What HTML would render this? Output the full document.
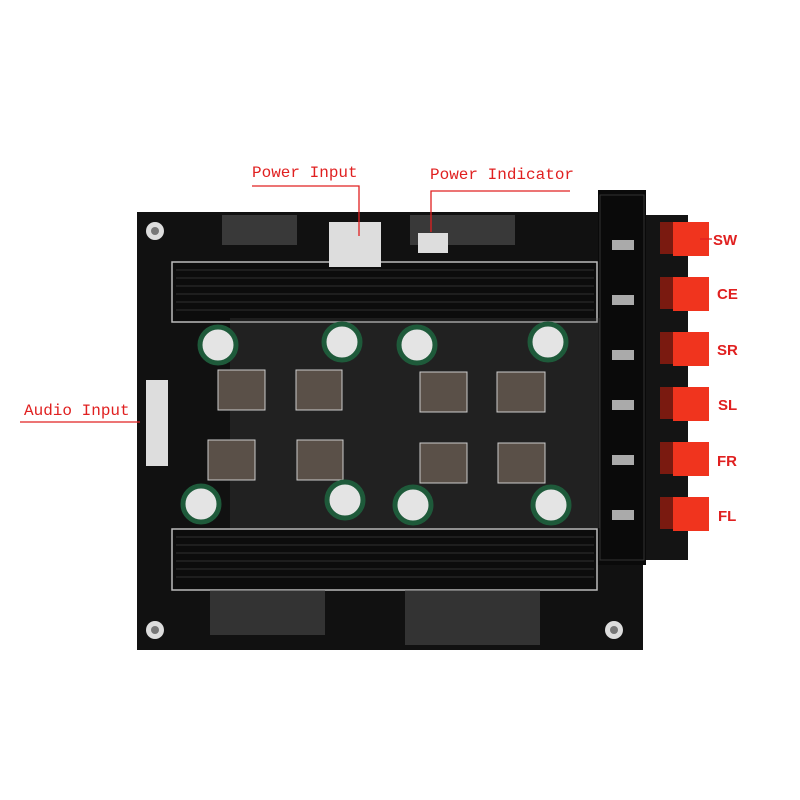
<!DOCTYPE html>
<html><head><style>body{margin:0;background:#fff}svg{display:block}</style></head><body>
<svg width="800" height="800" viewBox="0 0 800 800" xmlns="http://www.w3.org/2000/svg">
<rect width="800" height="800" fill="#fff"/>
<rect x="640" y="215" width="48" height="345" fill="#141414"/>
<rect x="137" y="212" width="506" height="438" fill="#111"/>
<rect x="598" y="190" width="48" height="375" fill="#0a0a0a"/>
<rect x="600" y="195" width="44" height="365" fill="none" stroke="#333" stroke-width="1"/>
<g fill="#ddd"><circle cx="155" cy="231" r="9"/><circle cx="155" cy="630" r="9"/><circle cx="614" cy="630" r="9"/></g>
<g fill="#777"><circle cx="155" cy="231" r="4"/><circle cx="155" cy="630" r="4"/><circle cx="614" cy="630" r="4"/></g>
<g stroke="#bbb" stroke-width="1.5" fill="#0c0c0c">
<rect x="172" y="262" width="425" height="60"/>
<rect x="172" y="529" width="425" height="61"/>
</g>
<g stroke="#2a2a2a" stroke-width="1.2">
<line x1="176" y1="270" x2="594" y2="270"/><line x1="176" y1="278" x2="594" y2="278"/><line x1="176" y1="286" x2="594" y2="286"/><line x1="176" y1="294" x2="594" y2="294"/><line x1="176" y1="302" x2="594" y2="302"/><line x1="176" y1="310" x2="594" y2="310"/>
<line x1="176" y1="537" x2="594" y2="537"/><line x1="176" y1="545" x2="594" y2="545"/><line x1="176" y1="553" x2="594" y2="553"/><line x1="176" y1="561" x2="594" y2="561"/><line x1="176" y1="569" x2="594" y2="569"/><line x1="176" y1="577" x2="594" y2="577"/>
</g>
<g fill="#555">
<rect x="222" y="215" width="75" height="30" opacity=".6"/>
<rect x="410" y="215" width="105" height="30" opacity=".6"/>
<rect x="210" y="590" width="115" height="45" opacity=".5"/>
<rect x="405" y="590" width="135" height="55" opacity=".5"/>
<rect x="230" y="318" width="370" height="210" opacity=".25"/>
</g>
<rect x="329" y="222" width="52" height="45" fill="#ddd"/>
<rect x="418" y="233" width="30" height="20" fill="#ddd"/>
<rect x="146" y="380" width="22" height="86" fill="#ddd"/>
<g fill="#5a5048" stroke="#ccc" stroke-width="1">
<rect x="218" y="370" width="47" height="40"/><rect x="296" y="370" width="46" height="40"/>
<rect x="420" y="372" width="47" height="40"/><rect x="497" y="372" width="48" height="40"/>
<rect x="208" y="440" width="47" height="40"/><rect x="297" y="440" width="46" height="40"/>
<rect x="420" y="443" width="47" height="40"/><rect x="498" y="443" width="47" height="40"/>
</g>
<g fill="#e4e4e4" stroke="#1e5a3a" stroke-width="5">
<circle cx="218" cy="345" r="18"/><circle cx="342" cy="342" r="18"/><circle cx="417" cy="345" r="18"/><circle cx="548" cy="342" r="18"/>
<circle cx="201" cy="504" r="18"/><circle cx="345" cy="500" r="18"/><circle cx="413" cy="505" r="18"/><circle cx="551" cy="505" r="18"/>
</g>
<g fill="#aaa"><rect x="612" y="240" width="22" height="10"/><rect x="612" y="295" width="22" height="10"/><rect x="612" y="350" width="22" height="10"/><rect x="612" y="400" width="22" height="10"/><rect x="612" y="455" width="22" height="10"/><rect x="612" y="510" width="22" height="10"/></g>
<g fill="#7a1a10"><rect x="660" y="222" width="18" height="32"/><rect x="660" y="277" width="18" height="32"/><rect x="660" y="332" width="18" height="32"/><rect x="660" y="387" width="18" height="32"/><rect x="660" y="442" width="18" height="32"/><rect x="660" y="497" width="18" height="32"/></g>
<g fill="#f0341e"><rect x="673" y="222" width="36" height="34"/><rect x="673" y="277" width="36" height="34"/><rect x="673" y="332" width="36" height="34"/><rect x="673" y="387" width="36" height="34"/><rect x="673" y="442" width="36" height="34"/><rect x="673" y="497" width="36" height="34"/></g>
<g stroke="#e02020" stroke-width="1.3" fill="none">
<polyline points="252,186 359,186 359,236"/>
<polyline points="570,191 431,191 431,232"/>
<line x1="20" y1="422" x2="140" y2="422"/>
<line x1="700" y1="239" x2="712" y2="239"/>
</g>
<g font-family="Liberation Mono, monospace" font-size="16" fill="#e02020">
<text x="252" y="177">Power Input</text>
<text x="430" y="179">Power Indicator</text>
<text x="24" y="415">Audio Input</text>
</g>
<g font-family="Liberation Sans, sans-serif" font-size="15" font-weight="bold" fill="#e02020">
<text x="713" y="245">SW</text><text x="717" y="299">CE</text><text x="717" y="355">SR</text>
<text x="718" y="410">SL</text><text x="717" y="466">FR</text><text x="718" y="521">FL</text>
</g>
</svg>
</body></html>
